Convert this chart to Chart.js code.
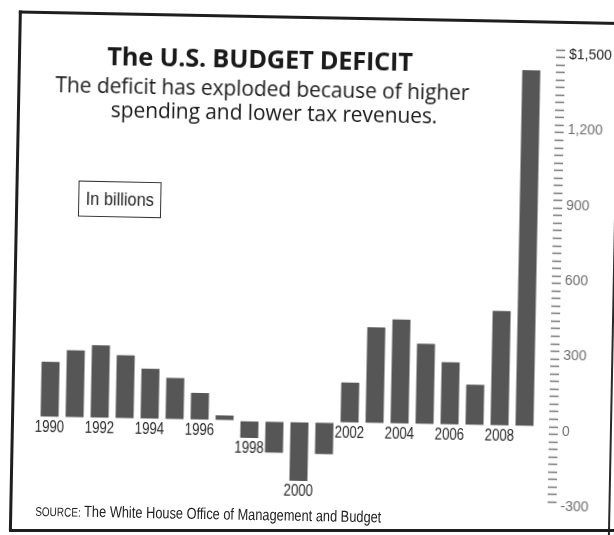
<!DOCTYPE html>
<html>
<head>
<meta charset="utf-8">
<script src="https://cdn.jsdelivr.net/npm/chart.js@4.4.1/dist/chart.umd.min.js"></script>
<style>
  html, body { margin: 0; padding: 0; background: #fff; overflow: hidden; }
  #page { position: absolute; left: 0; top: 0; width: 614px; height: 535px; transform: rotate(1.1deg); transform-origin: 307px 267px; }
  #frame { position: absolute; left: 14px; top: 16px; width: 596px; height: 517px;
    border-left: 3px solid #1e1e1e; border-top: 3px solid #1e1e1e; border-right: 2px solid #2a2a2a; }
  #bottomLine { position: absolute; left: 9px; top: 529px; width: 605px; height: 3px; background: #1e1e1e; }
  canvas { position: absolute; left: 0; top: 0; }
  .t { position: absolute; white-space: nowrap; color: #1a1a1a; line-height: 1; }
  #title { left: 256px; top: 42px; transform: translateX(-50%); font: bold 25.5px "Open Sans", sans-serif; letter-spacing: -0.3px; }
  .sub { font: 21px "Open Sans", sans-serif; transform: translateX(-50%); letter-spacing: -0.1px; }
  #sub1 { left: 259px; top: 75px; }
  #sub2 { left: 271px; top: 99px; }
  #unit { left: 77px; top: 185px; width: 81px; height: 34px; border: 1px solid #333; text-align: center;
    font: 19px "Liberation Sans", sans-serif; line-height: 34px; color: #222; }
  #unit span { display: inline-block; transform: scaleX(0.86); }
  #source { left: 40px; top: 507px; font: 16px "Liberation Sans", sans-serif; color: #222; transform: scaleX(0.8); transform-origin: left center; }
  #source span { font-size: 12.5px; }
</style>
</head>
<body>
<div id="page">
  <div id="frame"></div>
  <canvas id="myChart" width="614" height="535"></canvas>
  <div class="t" id="title">The U.S. BUDGET DEFICIT</div>
  <div class="t sub" id="sub1">The deficit has exploded because of higher</div>
  <div class="t sub" id="sub2">spending and lower tax revenues.</div>
  <div class="t" id="unit"><span>In billions</span></div>
  <div class="t" id="source"><span>SOURCE:</span> The White House Office of Management and Budget</div>
</div>
<div id="bottomLine"></div>
<script>
const years = ['1990', '1991', '1992', '1993', '1994', '1995', '1996', '1997', '1998', '1999',
  '2000', '2001', '2002', '2003', '2004', '2005', '2006', '2007', '2008', '2009'];
// deficit in billions of dollars (negative = surplus)
const deficits = [220, 268, 289, 252, 200, 165, 107, 20, -68, -124,
  -235, -126, 160, 382, 415, 320, 249, 161, 457, 1416];
const yearLabels = ['1990', '1992', '1994', '1996', '1998', '2000', '2002', '2004', '2006', '2008'];
const axisMin = -300;
const axisMax = 1500;
const axisStep = 30;
const labelStep = 300;

// years under the bars: below zero for deficits, below the bar end for surpluses
const yearLabelPlugin = {
  id: 'yearLabels',
  afterDatasetsDraw(chart) {
    const ctx = chart.ctx;
    const meta = chart.getDatasetMeta(0);
    const zero = chart.scales.y.getPixelForValue(0);
    ctx.save();
    ctx.font = '17px "Liberation Sans", sans-serif';
    ctx.fillStyle = '#2a2a2a';
    ctx.textAlign = 'center';
    ctx.textBaseline = 'alphabetic';
    meta.data.forEach((bar, i) => {
      if (!yearLabels.includes(years[i])) return;
      const end = deficits[i] < 0 ? bar.y : zero;
      ctx.save();
      ctx.translate(bar.x, end + 15);
      ctx.scale(0.78, 1);
      ctx.fillText(years[i], 0, 0);
      ctx.restore();
    });
    ctx.restore();
  }
};

const ctx = document.getElementById('myChart').getContext('2d');
const chart = new Chart(ctx, {
  type: 'bar',
  data: {
    labels: years,
    datasets: [{
      data: deficits,
      backgroundColor: '#565656',
      borderWidth: 0,
      categoryPercentage: 1,
      barPercentage: 0.72
    }]
  },
  options: {
    responsive: false,
    animation: false,
    layout: { padding: { left: 40, right: 0, top: 45, bottom: 37.6 } },
    plugins: {
      legend: { display: false },
      tooltip: { enabled: false }
    },
    scales: {
      x: { display: false },
      y: {
        position: 'right',
        min: axisMin,
        max: axisMax,
        border: { display: false },
        grid: {
          drawOnChartArea: false,
          drawTicks: true,
          tickLength: 21,
          tickBorderDash: [0, 12, 9, 100],
          tickColor: '#7a7a7a',
          tickWidth: 1.4
        },
        ticks: {
          stepSize: axisStep,
          autoSkip: false,
          maxTicksLimit: 100,
          padding: 4,
          labelOffset: 5,
          font: { family: '"Liberation Sans", sans-serif', size: 14 },
          color: c => (c.tick && c.tick.value === axisMax ? '#222' : '#6e6e6e'),
          callback: v => {
            if (v % labelStep !== 0) return '';
            if (v === axisMax) return '$' + v.toLocaleString('en-US');
            return v.toLocaleString('en-US');
          }
        },
        afterFit: s => { s.width = 74; }
      }
    }
  },
  plugins: [yearLabelPlugin]
});
</script>
</body>
</html>
